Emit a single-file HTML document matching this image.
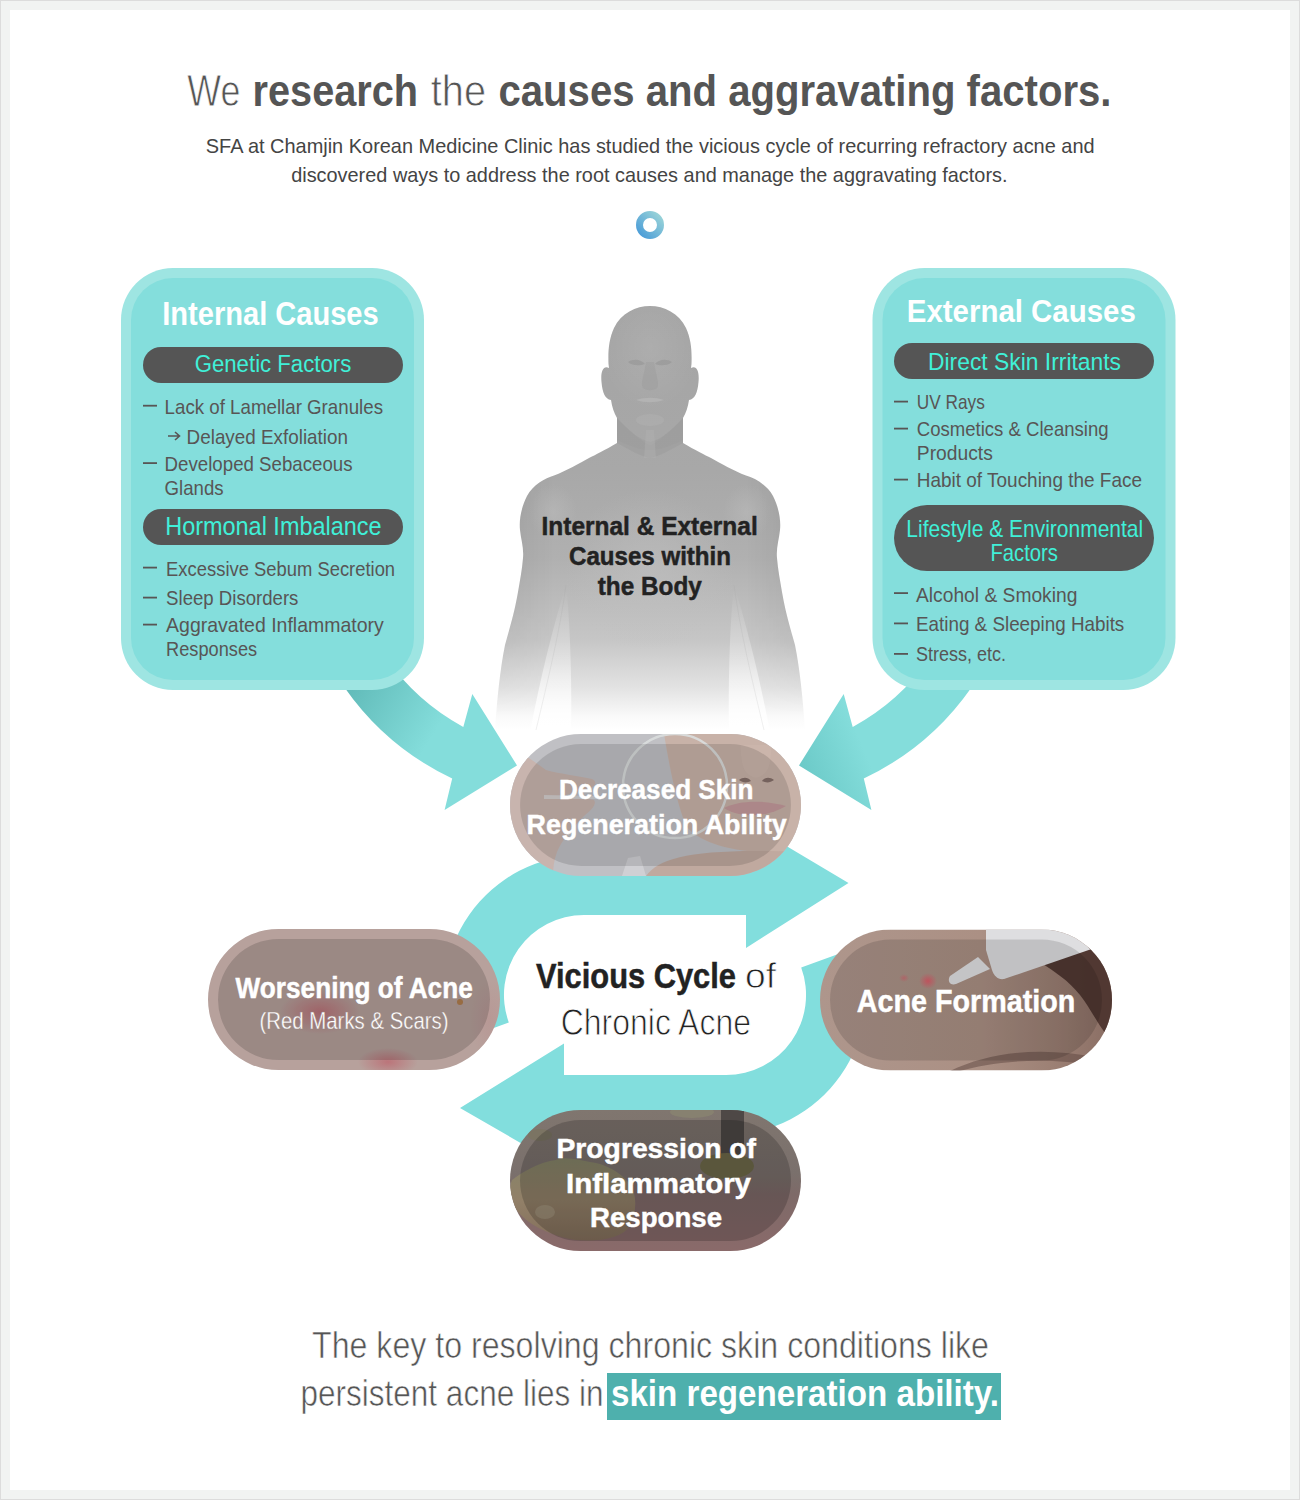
<!DOCTYPE html>
<html><head><meta charset="utf-8"><style>
html,body{margin:0;padding:0;background:#fff;}
svg{display:block;font-family:"Liberation Sans", sans-serif;}
</style></head><body>
<svg width="1300" height="1500" viewBox="0 0 1300 1500">
<rect x="0" y="0" width="1300" height="1500" fill="#dcdcdc"/><rect x="1" y="1" width="1298" height="1498" fill="#f1f3f2"/><rect x="10" y="10" width="1280" height="1480" fill="#ffffff"/><text x="187.3" y="106" font-size="43.6" font-weight="400" fill="#555" text-anchor="start" textLength="53" lengthAdjust="spacingAndGlyphs" stroke="#fff" stroke-width="0.8">We</text>
<text x="252.6" y="106" font-size="43.6" font-weight="700" fill="#555" text-anchor="start" textLength="165.4" lengthAdjust="spacingAndGlyphs">research</text>
<text x="430.8" y="106" font-size="43.6" font-weight="400" fill="#555" text-anchor="start" textLength="55.2" lengthAdjust="spacingAndGlyphs" stroke="#fff" stroke-width="0.8">the</text>
<text x="498.5" y="106" font-size="43.6" font-weight="700" fill="#555" text-anchor="start" textLength="613" lengthAdjust="spacingAndGlyphs">causes and aggravating factors.</text>
<text x="205.8" y="153" font-size="20.3" font-weight="400" fill="#444" text-anchor="start" textLength="888.8" lengthAdjust="spacingAndGlyphs">SFA at Chamjin Korean Medicine Clinic has studied the vicious cycle of recurring refractory acne and</text>
<text x="291.2" y="181.5" font-size="20.3" font-weight="400" fill="#444" text-anchor="start" textLength="716.3" lengthAdjust="spacingAndGlyphs">discovered ways to address the root causes and manage the aggravating factors.</text>
<defs>
<linearGradient id="ringg" x1="0" y1="1" x2="1" y2="0"><stop offset="0" stop-color="#4a9cd8"/><stop offset="1" stop-color="#9ad4d8"/></linearGradient>
<linearGradient id="bodyg" x1="0" y1="300" x2="0" y2="730" gradientUnits="userSpaceOnUse">
 <stop offset="0" stop-color="#a4a4a4"/><stop offset="0.4" stop-color="#a8a8a8"/><stop offset="0.6" stop-color="#b0b0b0"/><stop offset="0.79" stop-color="#c6c6c6"/><stop offset="0.9" stop-color="#e2e2e2"/><stop offset="0.97" stop-color="#fafafa"/><stop offset="1" stop-color="#ffffff"/></linearGradient>
<linearGradient id="fadeg" x1="0" y1="600" x2="0" y2="732" gradientUnits="userSpaceOnUse">
 <stop offset="0" stop-color="#fff" stop-opacity="0"/><stop offset="0.5" stop-color="#fff" stop-opacity="0.1"/><stop offset="0.85" stop-color="#fff" stop-opacity="0.6"/><stop offset="1" stop-color="#fff" stop-opacity="1"/></linearGradient>
<radialGradient id="chestg" cx="0.5" cy="0.5" r="0.5"><stop offset="0" stop-color="#c0c0c0" stop-opacity="0.6"/><stop offset="1" stop-color="#c0c0c0" stop-opacity="0"/></radialGradient>
<radialGradient id="deltg" cx="0.5" cy="0.5" r="0.5"><stop offset="0" stop-color="#bdbdbd" stop-opacity="0.5"/><stop offset="1" stop-color="#bdbdbd" stop-opacity="0"/></radialGradient>
<linearGradient id="sideg" x1="490" y1="0" x2="810" y2="0" gradientUnits="userSpaceOnUse">
 <stop offset="0" stop-color="#000" stop-opacity="0.07"/><stop offset="0.2" stop-color="#000" stop-opacity="0"/><stop offset="0.8" stop-color="#000" stop-opacity="0"/><stop offset="1" stop-color="#000" stop-opacity="0.07"/></linearGradient>
<linearGradient id="vfadeg" x1="0" y1="430" x2="0" y2="730" gradientUnits="userSpaceOnUse">
 <stop offset="0" stop-color="#fff"/><stop offset="0.6" stop-color="#fff"/><stop offset="0.95" stop-color="#000"/></linearGradient>
<radialGradient id="headg" cx="0.5" cy="0.4" r="0.5"><stop offset="0" stop-color="#fff" stop-opacity="0.09"/><stop offset="1" stop-color="#fff" stop-opacity="0"/></radialGradient>
<linearGradient id="gapg" x1="0" y1="590" x2="0" y2="730" gradientUnits="userSpaceOnUse">
 <stop offset="0" stop-color="#fff" stop-opacity="0"/><stop offset="0.5" stop-color="#fff" stop-opacity="0.35"/><stop offset="1" stop-color="#fff" stop-opacity="1"/></linearGradient>
<linearGradient id="arrshadeL" x1="350" y1="690" x2="430" y2="740" gradientUnits="userSpaceOnUse"><stop offset="0" stop-color="#62bcba"/><stop offset="1" stop-color="#84dddb"/></linearGradient>
<linearGradient id="arrshadeR" x1="800" y1="765" x2="860" y2="740" gradientUnits="userSpaceOnUse"><stop offset="0" stop-color="#6ccac8"/><stop offset="1" stop-color="#84dddb"/></linearGradient>
</defs><circle cx="650" cy="225" r="10.5" fill="none" stroke="url(#ringg)" stroke-width="7"/><path d="M650.0,306.0 C636.0,306.0 621.0,313.0 614.0,328.0 C609.0,339.0 608.0,350.0 608.5,364.0 L609.0,368.0 C603.0,365.0 600.5,372.0 601.5,382.0 C602.5,393.0 605.0,399.0 611.0,400.0 C612.0,407.0 614.0,413.0 617.0,418.0 L617.0,443.0 C605.0,450.0 595.0,455.0 589.0,458.0 C580.0,463.0 566.0,471.0 554.0,475.5 C545.0,478.0 533.0,485.0 527.0,496.0 C521.0,508.0 519.0,520.0 520.0,530.0 C521.0,540.0 524.0,548.0 523.0,558.0 C522.0,570.0 520.0,580.0 518.0,592.0 C514.0,615.0 509.0,630.0 505.0,645.0 C500.0,670.0 497.0,700.0 495.0,730.0 L650.0,730.0 L805.0,730.0 C803.0,700.0 800.0,670.0 795.0,645.0 C791.0,630.0 786.0,615.0 782.0,592.0 C780.0,580.0 778.0,570.0 777.0,558.0 C776.0,548.0 779.0,540.0 780.0,530.0 C781.0,520.0 779.0,508.0 773.0,496.0 C767.0,485.0 755.0,478.0 746.0,475.5 C734.0,471.0 720.0,463.0 711.0,458.0 C705.0,455.0 695.0,450.0 683.0,443.0 L683.0,418.0 C686.0,413.0 688.0,407.0 689.0,400.0 C695.0,399.0 697.5,393.0 698.5,382.0 C699.5,372.0 697.0,365.0 691.0,368.0 L691.5,364.0 C692.0,350.0 691.0,339.0 686.0,328.0 C679.0,313.0 664.0,306.0 650.0,306.0 Z" fill="url(#bodyg)"/><clipPath id="bodyclip"><path d="M650.0,306.0 C636.0,306.0 621.0,313.0 614.0,328.0 C609.0,339.0 608.0,350.0 608.5,364.0 L609.0,368.0 C603.0,365.0 600.5,372.0 601.5,382.0 C602.5,393.0 605.0,399.0 611.0,400.0 C612.0,407.0 614.0,413.0 617.0,418.0 L617.0,443.0 C605.0,450.0 595.0,455.0 589.0,458.0 C580.0,463.0 566.0,471.0 554.0,475.5 C545.0,478.0 533.0,485.0 527.0,496.0 C521.0,508.0 519.0,520.0 520.0,530.0 C521.0,540.0 524.0,548.0 523.0,558.0 C522.0,570.0 520.0,580.0 518.0,592.0 C514.0,615.0 509.0,630.0 505.0,645.0 C500.0,670.0 497.0,700.0 495.0,730.0 L650.0,730.0 L805.0,730.0 C803.0,700.0 800.0,670.0 795.0,645.0 C791.0,630.0 786.0,615.0 782.0,592.0 C780.0,580.0 778.0,570.0 777.0,558.0 C776.0,548.0 779.0,540.0 780.0,530.0 C781.0,520.0 779.0,508.0 773.0,496.0 C767.0,485.0 755.0,478.0 746.0,475.5 C734.0,471.0 720.0,463.0 711.0,458.0 C705.0,455.0 695.0,450.0 683.0,443.0 L683.0,418.0 C686.0,413.0 688.0,407.0 689.0,400.0 C695.0,399.0 697.5,393.0 698.5,382.0 C699.5,372.0 697.0,365.0 691.0,368.0 L691.5,364.0 C692.0,350.0 691.0,339.0 686.0,328.0 C679.0,313.0 664.0,306.0 650.0,306.0 Z"/></clipPath><ellipse cx="650" cy="360" rx="50" ry="62" fill="url(#headg)" clip-path="url(#bodyclip)"/><path d="M617,418 C630,432 640,440 650,442 C660,440 670,432 683,418 L683,440 C670,446 660,450 650,450 C640,450 630,446 617,440 Z" fill="#909090" opacity="0.25"/><mask id="vmask"><rect x="480" y="430" width="340" height="300" fill="url(#vfadeg)"/></mask><g mask="url(#vmask)"><rect x="490" y="440" width="320" height="290" fill="url(#sideg)" clip-path="url(#bodyclip)"/></g><g opacity="1"><path d="M628,362 C634,358 642,360 645,364 C640,366 632,366 628,362 Z M672,362 C666,358 658,360 655,364 C660,366 668,366 672,362 Z" fill="#8e8e8e" opacity="0.45"/><path d="M646,362 C644,375 640,384 643,388 C647,391 653,391 657,388 C660,384 656,375 654,362 Z" fill="#999" opacity="0.35"/><path d="M636,400 C645,397 655,397 664,400 C655,403 645,403 636,400 Z" fill="#b8b8b8" opacity="0.7"/><ellipse cx="650" cy="420" rx="14" ry="6" fill="#b4b4b4" opacity="0.4"/><path d="M617,418 C628,430 640,440 650,446 C660,440 672,430 683,418 L683,443 C670,450 660,456 650,458 C640,456 630,450 617,443 Z" fill="#9c9c9c" opacity="0.6"/><path d="M646,430 L654,430 L656,458 L644,458 Z" fill="#b4b4b4" opacity="0.35"/><path d="M566,585 C570,620 572,680 571,732 L530,732 C540,680 552,630 566,585 Z" fill="url(#gapg)"/><path d="M734,585 C730,620 728,680 729,732 L770,732 C760,680 748,630 734,585 Z" fill="url(#gapg)"/><path d="M566,585 C560,630 548,680 536,730" stroke="#9a9a9a" stroke-width="1" fill="none" opacity="0.15"/><path d="M734,585 C740,630 752,680 764,730" stroke="#9a9a9a" stroke-width="1" fill="none" opacity="0.15"/><ellipse cx="650" cy="570" rx="85" ry="80" fill="url(#chestg)"/><ellipse cx="553" cy="512" rx="24" ry="28" fill="url(#deltg)"/><ellipse cx="747" cy="512" rx="24" ry="28" fill="url(#deltg)"/></g><path d="M344.7,687.7 A275,275 0 0 0 452.2,778.5 L444.6,810 L517,765.4 L472.3,694 L463.3,726.9 A224,224 0 0 1 386.5,658.5 Z" fill="url(#arrshadeL)"/><path d="M971.3,687.7 A275,275 0 0 1 863.8,778.5 L871.4,810.0 L799.0,765.4 L843.7,694.0 L852.7,726.9 A224,224 0 0 0 929.5,658.5 Z" fill="url(#arrshadeR)"/><rect x="121" y="268" width="303" height="422" rx="52" fill="#9ee5e2"/><rect x="131" y="278" width="283" height="402" rx="42" fill="#84dedc"/><rect x="872.5" y="268" width="303" height="422" rx="52" fill="#9ee5e2"/><rect x="882.5" y="278" width="283" height="402" rx="42" fill="#84dedc"/><text x="162.3" y="325.2" font-size="33.1" font-weight="700" fill="#fff" text-anchor="start" textLength="216.4" lengthAdjust="spacingAndGlyphs">Internal Causes</text>
<rect x="143" y="347" width="260" height="36" rx="18" fill="#555"/><text x="194.7" y="372" font-size="24.7" font-weight="400" fill="#40f0d8" text-anchor="start" textLength="156.6" lengthAdjust="spacingAndGlyphs">Genetic Factors</text>
<rect x="143" y="404.8" width="14" height="1.8" fill="#585555"/>
<text x="164.6" y="414" font-size="20.3" font-weight="400" fill="#585555" text-anchor="start" textLength="218.4" lengthAdjust="spacingAndGlyphs">Lack of Lamellar Granules</text>
<path d="M168,436 L179,436 M175,432 L179.5,436 L175,440" stroke="#585555" stroke-width="1.6" fill="none"/><text x="186.6" y="443.6" font-size="20.3" font-weight="400" fill="#585555" text-anchor="start" textLength="161.4" lengthAdjust="spacingAndGlyphs">Delayed Exfoliation</text>
<rect x="143" y="462.2" width="14" height="1.8" fill="#585555"/>
<text x="164.6" y="471.4" font-size="20.3" font-weight="400" fill="#585555" text-anchor="start" textLength="188" lengthAdjust="spacingAndGlyphs">Developed Sebaceous</text>
<text x="164.6" y="494.6" font-size="20.3" font-weight="400" fill="#585555" text-anchor="start" textLength="59" lengthAdjust="spacingAndGlyphs">Glands</text>
<rect x="143" y="509" width="260" height="36" rx="18" fill="#555"/><text x="165.2" y="534.7" font-size="25.9" font-weight="400" fill="#40f0d8" text-anchor="start" textLength="216.4" lengthAdjust="spacingAndGlyphs">Hormonal Imbalance</text>
<rect x="143" y="566.7" width="14" height="1.8" fill="#585555"/>
<text x="166.1" y="575.7" font-size="20.3" font-weight="400" fill="#585555" text-anchor="start" textLength="229" lengthAdjust="spacingAndGlyphs">Excessive Sebum Secretion</text>
<rect x="143" y="596.7" width="14" height="1.8" fill="#585555"/>
<text x="166.1" y="605.4" font-size="20.3" font-weight="400" fill="#585555" text-anchor="start" textLength="132.3" lengthAdjust="spacingAndGlyphs">Sleep Disorders</text>
<rect x="143" y="623.7" width="14" height="1.8" fill="#585555"/>
<text x="166.1" y="632.2" font-size="20.3" font-weight="400" fill="#585555" text-anchor="start" textLength="217.7" lengthAdjust="spacingAndGlyphs">Aggravated Inflammatory</text>
<text x="166.1" y="656" font-size="20.3" font-weight="400" fill="#585555" text-anchor="start" textLength="91" lengthAdjust="spacingAndGlyphs">Responses</text>
<text x="906.8" y="322.4" font-size="31.3" font-weight="700" fill="#fff" text-anchor="start" textLength="229" lengthAdjust="spacingAndGlyphs">External Causes</text>
<rect x="894" y="343" width="260" height="36" rx="18" fill="#555"/><text x="928" y="370.3" font-size="24.3" font-weight="400" fill="#40f0d8" text-anchor="start" textLength="193" lengthAdjust="spacingAndGlyphs">Direct Skin Irritants</text>
<rect x="894" y="400.7" width="14" height="1.8" fill="#585555"/>
<text x="916.8" y="409.4" font-size="20.3" font-weight="400" fill="#585555" text-anchor="start" textLength="68" lengthAdjust="spacingAndGlyphs">UV Rays</text>
<rect x="894" y="427.7" width="14" height="1.8" fill="#585555"/>
<text x="916.8" y="436" font-size="20.3" font-weight="400" fill="#585555" text-anchor="start" textLength="191.8" lengthAdjust="spacingAndGlyphs">Cosmetics &amp; Cleansing</text>
<text x="916.8" y="460.2" font-size="20.3" font-weight="400" fill="#585555" text-anchor="start" textLength="76" lengthAdjust="spacingAndGlyphs">Products</text>
<rect x="894" y="478.7" width="14" height="1.8" fill="#585555"/>
<text x="916.8" y="487.4" font-size="20.3" font-weight="400" fill="#585555" text-anchor="start" textLength="225.2" lengthAdjust="spacingAndGlyphs">Habit of Touching the Face</text>
<rect x="894" y="505" width="260" height="66" rx="33" fill="#555"/><text x="906.3" y="537" font-size="23.8" font-weight="400" fill="#40f0d8" text-anchor="start" textLength="236.9" lengthAdjust="spacingAndGlyphs">Lifestyle &amp; Environmental</text>
<text x="990.4" y="560.8" font-size="23.8" font-weight="400" fill="#40f0d8" text-anchor="start" textLength="67.6" lengthAdjust="spacingAndGlyphs">Factors</text>
<rect x="894" y="592.2" width="14" height="1.8" fill="#585555"/>
<text x="916" y="602" font-size="20.3" font-weight="400" fill="#585555" text-anchor="start" textLength="161.4" lengthAdjust="spacingAndGlyphs">Alcohol &amp; Smoking</text>
<rect x="894" y="622.5" width="14" height="1.8" fill="#585555"/>
<text x="916" y="631" font-size="20.3" font-weight="400" fill="#585555" text-anchor="start" textLength="208.3" lengthAdjust="spacingAndGlyphs">Eating &amp; Sleeping Habits</text>
<rect x="894" y="653.0" width="14" height="1.8" fill="#585555"/>
<text x="916" y="661.2" font-size="20.3" font-weight="400" fill="#585555" text-anchor="start" textLength="90" lengthAdjust="spacingAndGlyphs">Stress, etc.</text>
<text x="541.5" y="534.6" font-size="26.6" font-weight="700" fill="#222" text-anchor="start" textLength="216.2" lengthAdjust="spacingAndGlyphs" stroke="#222" stroke-width="0.5">Internal &amp; External</text>
<text x="569" y="564.7" font-size="26.6" font-weight="700" fill="#222" text-anchor="start" textLength="162" lengthAdjust="spacingAndGlyphs" stroke="#222" stroke-width="0.5">Causes within</text>
<text x="597.7" y="594.7" font-size="26.6" font-weight="700" fill="#222" text-anchor="start" textLength="104.1" lengthAdjust="spacingAndGlyphs" stroke="#222" stroke-width="0.5">the Body</text>
<path d="M452.4,1042.9 A140,140 0 0 1 584,855 L746,855 L746,822 L848.5,883 L746,948 L746,915 L584,915 A80,80 0 0 0 508.8,1022.4 Z" fill="#82dedd"/><path d="M857.6,947.1 A140,140 0 0 1 726,1135 L564,1135 L564,1168 L460,1108 L564,1043.5 L564,1075 L726,1075 A80,80 0 0 0 801.2,967.6 Z" fill="#82dedd"/><defs><clipPath id="clip_top"><path d="M581.0,734 L730.0,734 A71.0,71.0 0 0 1 730.0,876 L581.0,876 A71.0,71.0 0 0 1 581.0,734 Z"/></clipPath><clipPath id="clip_left"><path d="M278.5,929 L429.5,929 A70.5,70.5 0 0 1 429.5,1070 L278.5,1070 A70.5,70.5 0 0 1 278.5,929 Z"/></clipPath><clipPath id="clip_right"><path d="M890.5,929.5 L1041.5,929.5 A70.5,70.5 0 0 1 1041.5,1070.5 L890.5,1070.5 A70.5,70.5 0 0 1 890.5,929.5 Z"/></clipPath><clipPath id="clip_bot"><path d="M580.5,1110 L730.5,1110 A70.5,70.5 0 0 1 730.5,1251 L580.5,1251 A70.5,70.5 0 0 1 580.5,1110 Z"/></clipPath>
<linearGradient id="g_right" x1="820" y1="0" x2="1112" y2="0" gradientUnits="userSpaceOnUse">
 <stop offset="0" stop-color="#ae968c"/><stop offset="0.55" stop-color="#ab9084"/><stop offset="0.8" stop-color="#9c8074"/><stop offset="1" stop-color="#8a6e64"/></linearGradient>
<linearGradient id="g_hair" x1="1040" y1="950" x2="1112" y2="1020" gradientUnits="userSpaceOnUse">
 <stop offset="0" stop-color="#5e423a" stop-opacity="0"/><stop offset="0.45" stop-color="#4a322c" stop-opacity="0.9"/><stop offset="1" stop-color="#3a2a26"/></linearGradient>
<linearGradient id="g_bot" x1="0" y1="1110" x2="0" y2="1251" gradientUnits="userSpaceOnUse">
 <stop offset="0" stop-color="#80766f"/><stop offset="0.45" stop-color="#7a706c"/><stop offset="0.6" stop-color="#7e6a68"/><stop offset="1" stop-color="#8a6a6a"/></linearGradient>
<radialGradient id="g_red" cx="0.5" cy="0.5" r="0.5"><stop offset="0" stop-color="#c04858" stop-opacity="0.5"/><stop offset="1" stop-color="#c04858" stop-opacity="0"/></radialGradient>
<radialGradient id="g_spot" cx="0.5" cy="0.5" r="0.5"><stop offset="0" stop-color="#e05a68" stop-opacity="0.9"/><stop offset="1" stop-color="#e05a68" stop-opacity="0"/></radialGradient>
<linearGradient id="g_blob" x1="0" y1="1160" x2="0" y2="1240" gradientUnits="userSpaceOnUse">
 <stop offset="0" stop-color="#868468"/><stop offset="0.5" stop-color="#928068"/><stop offset="1" stop-color="#84705c"/></linearGradient>
</defs><g clip-path="url(#clip_top)"><rect x="510" y="734" width="291" height="142" fill="#c0c0c4"/><path d="M510,748 C520,752 532,760 546,770 C560,774 580,776 592,779 C597,781 596,786 590,788 C578,792 566,795 558,797 C570,798 585,798 594,800 C597,804 592,810 584,816 C572,828 562,840 557,852 C554,860 553,868 553,876 L510,876 Z" fill="#c8b4ae"/><path d="M544,795 L596,796 L596,799 L544,799 Z" fill="#d8d8da" opacity="0.7"/><path d="M664,734 C670,770 676,800 686,826 C700,844 740,856 801,852 L801,734 Z" fill="#c8b2a8"/><path d="M646,876 C660,856 700,848 801,852 L801,876 Z" fill="#c0a99f"/><path d="M739,780 C743,777 748,777 751,781 C747,783 743,783 739,780 Z M762,781 C765,777 770,777 774,780 C770,783 766,783 762,781 Z" fill="#6a5450" opacity="0.7"/><path d="M740,745 C742,760 740,774 756,778 C772,774 770,760 772,745 Z" fill="#cdb8ae" opacity="0.5"/><path d="M724,808 C740,800 764,800 786,806 C766,818 740,818 724,808 Z" fill="#c49a9c"/><path d="M622,876 L628,858 L640,856 L646,876 Z" fill="#d0d0d4"/><circle cx="675" cy="786" r="52" fill="none" stroke="#dadede" stroke-width="2.5" opacity="0.9"/><path d="M581.0,744 L730.0,744 A61.0,61.0 0 0 1 730.0,866 L581.0,866 A61.0,61.0 0 0 1 581.0,744 Z" fill="#000" fill-opacity="0.12"/></g><g clip-path="url(#clip_left)"><rect x="208" y="929" width="292" height="141" fill="#b7a19c"/><ellipse cx="320" cy="1012" rx="40" ry="22" fill="url(#g_red)"/><ellipse cx="388" cy="1062" rx="30" ry="14" fill="url(#g_red)"/><ellipse cx="490" cy="1020" rx="20" ry="40" fill="url(#g_red)" opacity="0.2"/><circle cx="460" cy="1002" r="3" fill="#b0702e" opacity="0.7"/><path d="M278.5,939 L429.5,939 A60.5,60.5 0 0 1 429.5,1060 L278.5,1060 A60.5,60.5 0 0 1 278.5,939 Z" fill="#000" fill-opacity="0.15"/></g><g clip-path="url(#clip_right)"><rect x="820" y="929.5" width="292" height="141" fill="url(#g_right)"/><path d="M1040,962 C1070,952 1095,946 1112,940 L1112,1040 C1100,1030 1092,1010 1080,995 C1068,980 1055,972 1040,962 Z" fill="#4a322c" opacity="0.9"/><path d="M950,1071 C990,1052 1040,1046 1100,1058 L1100,1066 C1040,1056 990,1062 960,1071 Z" fill="#5e4640" opacity="0.5"/><path d="M986,929 L1112,929 L1112,942 L1004,979 C998,980 994,976 992,970 L986,950 Z" fill="#dedee0"/><path d="M950,976 L978,957 L990,969 L956,984 C950,986 947,981 950,976 Z" fill="#e2e2e4"/><ellipse cx="928" cy="981" rx="9" ry="8" fill="url(#g_spot)"/><ellipse cx="904" cy="978" rx="5" ry="4" fill="url(#g_spot)" opacity="0.6"/><path d="M890.5,939.5 L1041.5,939.5 A60.5,60.5 0 0 1 1041.5,1060.5 L890.5,1060.5 A60.5,60.5 0 0 1 890.5,939.5 Z" fill="#000" fill-opacity="0.13"/></g><g clip-path="url(#clip_bot)"><rect x="510" y="1110" width="291" height="141" fill="url(#g_bot)"/><path d="M512,1180 C522,1172 540,1162 556,1160 C566,1156 578,1160 590,1162 C606,1164 620,1172 630,1184 C638,1196 636,1214 630,1226 C622,1238 600,1242 576,1240 C552,1236 530,1226 518,1212 C510,1202 508,1190 512,1180 Z" fill="url(#g_blob)"/><ellipse cx="545" cy="1212" rx="10" ry="7" fill="#b8b098" opacity="0.35"/><ellipse cx="540" cy="1135" rx="12" ry="6" fill="#7a7460" opacity="0.8"/><rect x="721" y="1110" width="23" height="56" fill="#4e4846"/><ellipse cx="727" cy="1166" rx="27" ry="13" fill="#6e6a4a"/><ellipse cx="692" cy="1112" rx="22" ry="6" fill="#8a8670" opacity="0.7"/><path d="M580.5,1120 L730.5,1120 A60.5,60.5 0 0 1 730.5,1241 L580.5,1241 A60.5,60.5 0 0 1 580.5,1120 Z" fill="#000" fill-opacity="0.18"/></g><text x="559" y="799.3" font-size="27.6" font-weight="700" fill="#fff" text-anchor="start" textLength="194.5" lengthAdjust="spacingAndGlyphs" stroke="#fff" stroke-width="0.45">Decreased Skin</text>
<text x="526.6" y="833.7" font-size="27.6" font-weight="700" fill="#fff" text-anchor="start" textLength="260.2" lengthAdjust="spacingAndGlyphs" stroke="#fff" stroke-width="0.45">Regeneration Ability</text>
<text x="235.6" y="997.5" font-size="28.6" font-weight="700" fill="#fff" text-anchor="start" textLength="237.1" lengthAdjust="spacingAndGlyphs" stroke="#fff" stroke-width="0.45">Worsening of Acne</text>
<text x="259.5" y="1028.7" font-size="24.0" font-weight="400" fill="#fff" text-anchor="start" textLength="189" lengthAdjust="spacingAndGlyphs" stroke="#9a8682" stroke-width="0.35">(Red Marks &amp; Scars)</text>
<text x="856.8" y="1011.5" font-size="30.5" font-weight="700" fill="#fff" text-anchor="start" textLength="218.6" lengthAdjust="spacingAndGlyphs" stroke="#fff" stroke-width="0.45">Acne Formation</text>
<text x="556.5" y="1157.8" font-size="27.6" font-weight="700" fill="#fff" text-anchor="start" textLength="199.5" lengthAdjust="spacingAndGlyphs" stroke="#fff" stroke-width="0.45">Progression of</text>
<text x="566" y="1193" font-size="27.6" font-weight="700" fill="#fff" text-anchor="start" textLength="185" lengthAdjust="spacingAndGlyphs" stroke="#fff" stroke-width="0.45">Inflammatory</text>
<text x="590" y="1226.7" font-size="27.6" font-weight="700" fill="#fff" text-anchor="start" textLength="132" lengthAdjust="spacingAndGlyphs" stroke="#fff" stroke-width="0.45">Response</text>
<text x="536" y="988.3" font-size="35.3" font-weight="700" fill="#222" text-anchor="start" textLength="200" lengthAdjust="spacingAndGlyphs" stroke="#222" stroke-width="0.5">Vicious Cycle</text>
<text x="745" y="988.3" font-size="35.3" font-weight="400" fill="#222" text-anchor="start" textLength="31" lengthAdjust="spacingAndGlyphs" stroke="#fff" stroke-width="0.8">of</text>
<text x="560.7" y="1034.6" font-size="36.3" font-weight="400" fill="#222" text-anchor="start" textLength="190.3" lengthAdjust="spacingAndGlyphs" stroke="#fff" stroke-width="0.9">Chronic Acne</text>
<text x="312" y="1357.6" font-size="37.8" font-weight="400" fill="#555" text-anchor="start" textLength="677" lengthAdjust="spacingAndGlyphs" stroke="#fff" stroke-width="0.6">The key to resolving chronic skin conditions like</text>
<rect x="607" y="1373" width="394" height="47" fill="#4eb0ad"/><text x="300.5" y="1406.4" font-size="37.8" font-weight="400" fill="#555" text-anchor="start" textLength="303" lengthAdjust="spacingAndGlyphs" stroke="#fff" stroke-width="0.6">persistent acne lies in</text>
<text x="611" y="1406.4" font-size="37.8" font-weight="700" fill="#fff" text-anchor="start" textLength="388" lengthAdjust="spacingAndGlyphs">skin regeneration ability.</text>

</svg>
</body></html>
